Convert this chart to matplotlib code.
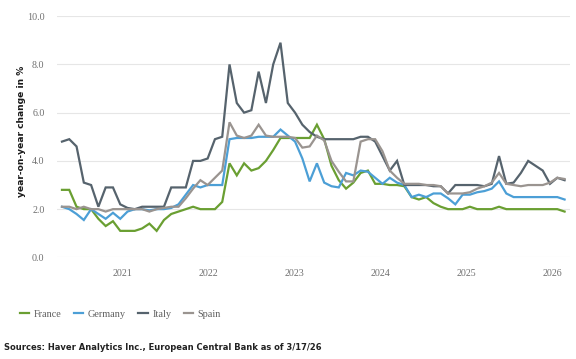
import numpy as np
import pandas as pd
import matplotlib
matplotlib.use("Agg")
import matplotlib.pyplot as plt

# monthly observations, evenly spaced between first and last reading
dates = pd.date_range("2020-04-20", "2026-02-22", periods=70)

france = [2.8, 2.8, 2.1, 2.0, 2.0, 1.6, 1.3, 1.5, 1.1, 1.1,
          1.1, 1.2, 1.4, 1.1, 1.55, 1.8, 1.9, 2.0, 2.1, 2.0,
          2.0, 2.0, 2.3, 3.9, 3.4, 3.9, 3.6, 3.7, 4.0, 4.45,
          4.95, 4.95, 4.95, 4.95, 4.95, 5.5, 4.9, 3.8, 3.2, 2.85,
          3.1, 3.5, 3.6, 3.05, 3.05, 3.0, 3.0, 2.95, 2.5, 2.4,
          2.5, 2.25, 2.1, 2.0, 2.0, 2.0, 2.1, 2.0, 2.0, 2.0,
          2.1, 2.0, 2.0, 2.0, 2.0, 2.0, 2.0, 2.0, 2.0, 1.9]

germany = [2.1, 2.0, 1.8, 1.55, 2.0, 1.8, 1.6, 1.85, 1.6, 1.9,
           2.0, 2.0, 1.95, 2.0, 2.0, 2.05, 2.2, 2.6, 3.0, 2.9,
           3.0, 3.0, 3.0, 4.9, 4.95, 4.95, 4.95, 5.0, 5.0, 5.0,
           5.3, 5.05, 4.8, 4.1, 3.15, 3.9, 3.1, 2.95, 2.9, 3.5,
           3.4, 3.6, 3.55, 3.3, 3.05, 3.3, 3.1, 3.0, 2.5, 2.6,
           2.5, 2.65, 2.65, 2.45, 2.2, 2.6, 2.6, 2.7, 2.75, 2.85,
           3.15, 2.65, 2.5, 2.5, 2.5, 2.5, 2.5, 2.5, 2.5, 2.4]

italy = [4.8, 4.9, 4.6, 3.1, 3.0, 2.1, 2.9, 2.9, 2.2, 2.05,
         2.0, 2.1, 2.1, 2.1, 2.1, 2.9, 2.9, 2.9, 4.0, 4.0,
         4.1, 4.9, 5.0, 8.0, 6.4, 6.0, 6.1, 7.7, 6.4, 8.0,
         8.9, 6.4, 6.0, 5.5, 5.2, 5.0, 4.9, 4.9, 4.9, 4.9,
         4.9, 5.0, 5.0, 4.8, 4.2, 3.6, 4.0, 3.0, 3.0, 3.0,
         3.0, 2.95, 2.95, 2.65, 3.0, 3.0, 3.0, 3.0, 2.95, 3.05,
         4.2, 3.05, 3.1, 3.5, 4.0, 3.8, 3.6, 3.05, 3.3, 3.2]

spain = [2.1, 2.1, 2.0, 2.1, 2.0, 2.0, 1.9, 2.0, 2.0, 2.0,
         2.0, 2.0, 1.9, 2.0, 2.05, 2.1, 2.1, 2.45, 2.85, 3.2,
         3.0, 3.3, 3.6, 5.6, 5.05, 4.95, 5.05, 5.5, 5.05, 5.0,
         5.0, 5.0, 4.95, 4.55, 4.6, 5.05, 4.85, 4.0, 3.55, 3.15,
         3.15, 4.8, 4.9, 4.9, 4.4, 3.6, 3.3, 3.05, 3.05, 3.05,
         3.0, 3.0, 2.95, 2.65, 2.65, 2.65, 2.7, 2.85, 2.95, 3.1,
         3.5, 3.05, 3.0, 2.95, 3.0, 3.0, 3.0, 3.1, 3.3, 3.25]

series = {
    "France": (france, "#6a9f32"),
    "Germany": (germany, "#4c9fd6"),
    "Italy": (italy, "#56636d"),
    "Spain": (spain, "#9a9490"),
}

y_ticks = [0, 2, 4, 6, 8, 10]
year_ticks = ["2021", "2022", "2023", "2024", "2025", "2026"]

serif = ["Liberation Serif", "DejaVu Serif"]
tick_col = "#707070"

fig = plt.figure(figsize=(5.76, 3.59), dpi=100)
ax = fig.add_axes([0.099, 0.283, 0.891, 0.672])

for name, (vals, col) in series.items():
    ax.plot(dates, vals, color=col, lw=1.6, label=name, solid_joinstyle="miter")

ax.set_ylim(0, 10)
ax.set_xlim(pd.Timestamp("2020-03-30"), pd.Timestamp("2026-03-18"))
ax.set_yticks(y_ticks)
ax.set_yticklabels([f"{v:.1f}" for v in y_ticks], fontfamily=serif,
                   fontsize=7.2, color=tick_col)
ax.set_xticks([pd.Timestamp(f"{y}-01-01") for y in year_ticks])
ax.set_xticklabels(year_ticks, fontfamily=serif, fontsize=7.2, color=tick_col)
ax.tick_params(length=0, pad=8)
ax.tick_params(axis="y", pad=9)
ax.grid(axis="y", color="#e6e6e6", lw=0.8)
ax.set_axisbelow(True)
for s in ax.spines.values():
    s.set_visible(False)

fig.text(0.037, 0.635, "year-on-year change in %", rotation=90,
         ha="center", va="center", fontsize=6.6, color="#1a1a1a",
         fontweight="semibold")

leg = fig.legend(loc="center left", bbox_to_anchor=(0.019, 0.125), ncol=4,
                 frameon=False, handlelength=0.9, handletextpad=0.45,
                 columnspacing=1.2, prop={"family": serif, "size": 7.4})
for t in leg.get_texts():
    t.set_color("#606060")

fig.text(0.007, 0.033, "Sources: Haver Analytics Inc., European Central Bank as of 3/17/26",
         ha="left", va="center", fontsize=6.0, fontweight="bold", color="#222222")

fig.savefig("out.png", dpi=100)
